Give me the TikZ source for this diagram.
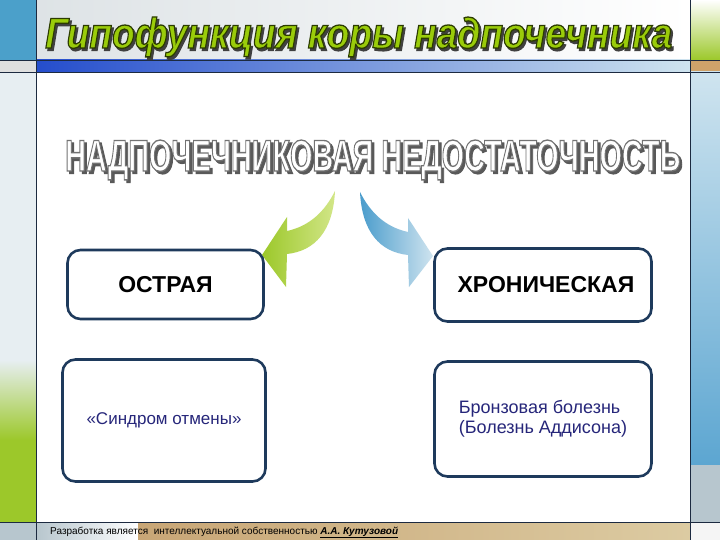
\documentclass[tikz,border=0pt]{standalone}
\usepackage{fontspec}
\setmainfont{Liberation Sans}
\newfontface\fontetitulo[FakeBold=3]{Liberation Sans Bold Italic}
\newfontface\fontecabeca[FakeBold=3]{Liberation Sans Bold}
\usepackage{graphicx}
\definecolor{azulescuro}{HTML}{1E3A5C}
\definecolor{linha}{HTML}{1C2A40}
\definecolor{azulcanto}{HTML}{4BA0CA}
\definecolor{verdetit}{HTML}{9ACC0A}
\definecolor{verdeseta}{HTML}{9CC82A}
\definecolor{verdeclaro}{HTML}{D2E688}
\definecolor{azulseta}{HTML}{4A9CCC}
\definecolor{azulclaro}{HTML}{CFE4EF}
\definecolor{textoazul}{HTML}{26267A}
\definecolor{bege}{HTML}{C8A676}
\definecolor{begeclaro}{HTML}{DCCBA2}
% cor do contorno das letras (RG = cor de traco)
\newcommand{\contorno}[1]{\special{pdf:code #1 RG}}
\newcommand{\textotitulo}{\resizebox{627pt}{31pt}{\fontetitulo Гипофункция коры надпочечника}}
\newcommand{\textocabeca}{\resizebox{615pt}{31pt}{\fontecabeca НАДПОЧЕЧНИКОВАЯ НЕДОСТАТОЧНОСТЬ}}
\begin{document}
\begin{tikzpicture}[x=1pt,y=-1pt,
  caixa/.style={draw=azulescuro,line width=2.6pt,rounded corners=13pt,fill=white,inner sep=0pt},
  letreiro/.style={inner sep=0pt,anchor=base west}]
  \useasboundingbox (0,0) rectangle (720,540);
  %fundo
  \fill[white] (0,0) rectangle (720,540);
  \fill[azulcanto] (0,0) rectangle (36,60);
  \shade[left color=black!8!azulclaro!70!gray!40,right color=white] (36,0) rectangle (690,60);
  \shade[top color=white,bottom color=verdeseta] (690,0) rectangle (720,60);
  %faixa azul
  \shade[left color=blue!45!azulseta!90!black,right color=azulclaro] (36,60) rectangle (690,72);
  \fill[gray!25] (0,60) rectangle (36,72);
  \fill[bege!90!orange] (690,60) rectangle (720,72);
  %colunas laterais
  \fill[gray!15!azulclaro!40] (0,72) rectangle (36,360);
  \shade[top color=gray!15!azulclaro!40,bottom color=verdeseta] (0,360) rectangle (36,440);
  \fill[verdeseta] (0,440) rectangle (36,522);
  \shade[top color=azulclaro,bottom color=azulseta!90] (690,72) rectangle (720,465);
  \fill[gray!30!azulclaro] (690,465) rectangle (720,522);
  %rodape
  \fill[gray!30!azulclaro] (0,522) rectangle (36,540);
  \shade[left color=gray!30!azulclaro,right color=white] (36,522) rectangle (138,540);
  \shade[left color=bege,right color=begeclaro] (138,522) rectangle (690,540);
  \fill[gray!8] (690,522) rectangle (720,540);
  %linhas
  \draw[linha,line width=0.8pt] (36,0) -- (36,540);
  \draw[linha,line width=0.8pt] (690,0) -- (690,540);
  \draw[linha,line width=0.8pt] (0,60) -- (720,60);
  \draw[linha,line width=0.8pt] (0,72) -- (720,72);
  \draw[linha,line width=0.8pt] (0,522) -- (720,522);

  %titulo
  \node[letreiro,text=black!75] (titsombra) at (47,50.5) {\textotitulo};
  \node[letreiro,text=verdetit] (titulo) at (45,48) {\contorno{0.17 0.23 0}\textotitulo};

  %cabecalho
  \node[letreiro,text=black!65] (cabsombra) at (67.5,173.5) {\textocabeca};
  \node[letreiro,text=white] (cabeca) at (65,171) {\contorno{0.45 0.45 0.45}\textocabeca};

  %setas
  \shade[left color=verdeseta,right color=verdeclaro]
    (335,191) .. controls (325,211) and (310,226) .. (287,231) -- (287,217) -- (262,255)
    -- (286,287) -- (287,254) .. controls (315,251) and (333,231) .. (335,191) -- cycle;
  \shade[left color=azulseta,right color=azulclaro]
    (360,192) .. controls (370,212) and (385,227) .. (408,232) -- (408,218) -- (433,256)
    -- (409,287) -- (408,255) .. controls (380,252) and (362,232) .. (360,192) -- cycle;

  %caixas
  \node[caixa,minimum width=196pt,minimum height=69pt,font=\fontsize{23}{26}\selectfont\bfseries] (aguda) at (165.5,284.5) {ОСТРАЯ\hspace{8pt}};
  \node[caixa,minimum width=217pt,minimum height=73pt,font=\fontsize{23}{26}\selectfont\bfseries] (cronica) at (543,285) {\hspace{6pt}ХРОНИЧЕСКАЯ};
  \node[caixa,minimum width=203pt,minimum height=122pt,font=\fontsize{17}{20}\selectfont,text=textoazul] (sindrome) at (164,420.5) {«Синдром отмены»};
  \node[caixa,minimum width=217pt,minimum height=115pt,font=\fontsize{18}{20}\selectfont,text=textoazul,align=left] (addison) at (543,419) {Бронзовая болезнь\\(Болезнь Аддисона)};

  %rodape texto
  \node[letreiro] (autor) at (50,534) {\resizebox{348pt}{!}{\fontsize{9}{10}\selectfont Разработка является\ \ интеллектуальной собственностью \underline{\textbf{\textit{А.А. Кутузовой}}}}};
\end{tikzpicture}
\end{document}
